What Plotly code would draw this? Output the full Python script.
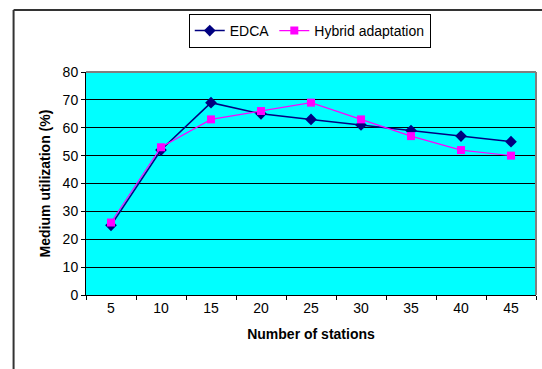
import plotly.graph_objects as go

stations = ["5", "10", "15", "20", "25", "30", "35", "40", "45"]
edca = [25, 52, 69, 65, 63, 61, 59, 57, 55]
hybrid = [26, 53, 63, 66, 69, 63, 57, 52, 50]

W, H = 542, 369
L, R, T, B = 85.5, 6, 72, 74
pw = W - L - R
ph = H - T - B

fig = go.Figure()
fig.add_trace(go.Scatter(
    x=stations, y=edca, name="EDCA", mode="lines+markers",
    line=dict(color="#000080", width=1.5),
    marker=dict(symbol="diamond", size=9, color="#000080"),
))
fig.add_trace(go.Scatter(
    x=stations, y=hybrid, name="Hybrid adaptation", mode="lines+markers",
    line=dict(color="#FF00FF", width=1.2),
    marker=dict(symbol="square", size=8, color="#FF00FF"),
))

font = "Liberation Sans, Arial, sans-serif"

fig.update_layout(
    width=W, height=H, autosize=False,
    margin=dict(l=L, r=R, t=T, b=B, pad=0),
    paper_bgcolor="white",
    plot_bgcolor="#00FFFF",
    font=dict(family=font, size=14, color="black"),
    showlegend=True,
    legend=dict(
        orientation="h",
        x=(309.5 - L) / pw, xanchor="center",
        y=1 + (T - 14) / ph, yanchor="top",
        bgcolor="white", bordercolor="black", borderwidth=1,
        font=dict(size=14),
    ),
    xaxis=dict(
        type="category",
        range=[-0.5, 8.5],
        tickson="boundaries",
        ticks="outside", ticklen=4, tickcolor="black",
        showline=True, linecolor="black", linewidth=1,
        showgrid=False, zeroline=False,
        tickfont=dict(size=14),
        title=dict(text="<b>Number of stations</b>", font=dict(size=14), standoff=14),
        automargin=False,
    ),
    yaxis=dict(
        range=[0, 80], dtick=10,
        ticks="outside", ticklen=4, tickcolor="black",
        showline=True, linecolor="black", linewidth=1,
        showgrid=True, gridcolor="black", gridwidth=1,
        zeroline=False,
        tickfont=dict(size=14),
        title=dict(text="<b>Medium utilization (%)</b>", font=dict(size=14), standoff=8),
        automargin=False,
    ),
)

# plot area gray border (top/right)
fig.add_shape(type="line", xref="paper", yref="paper", x0=0, x1=1, y0=1, y1=1,
              line=dict(color="#808080", width=2), layer="above")
fig.add_shape(type="line", xref="paper", yref="paper", x0=1, x1=1, y0=0, y1=1,
              line=dict(color="#808080", width=2), layer="above")

# outer chart frame: only top and left edges fall inside the picture
fx0 = (13 - L) / pw
fy1 = 1 + (T - 10) / ph
fig.add_shape(type="line", xref="paper", yref="paper",
              x0=fx0, x1=1 + (R + 20) / pw, y0=fy1, y1=fy1,
              line=dict(color="#333333", width=2), layer="above")
fig.add_shape(type="line", xref="paper", yref="paper",
              x0=fx0, x1=fx0, y0=-(B + 20) / ph, y1=fy1,
              line=dict(color="#333333", width=2), layer="above")

fig.write_html("out.html")
